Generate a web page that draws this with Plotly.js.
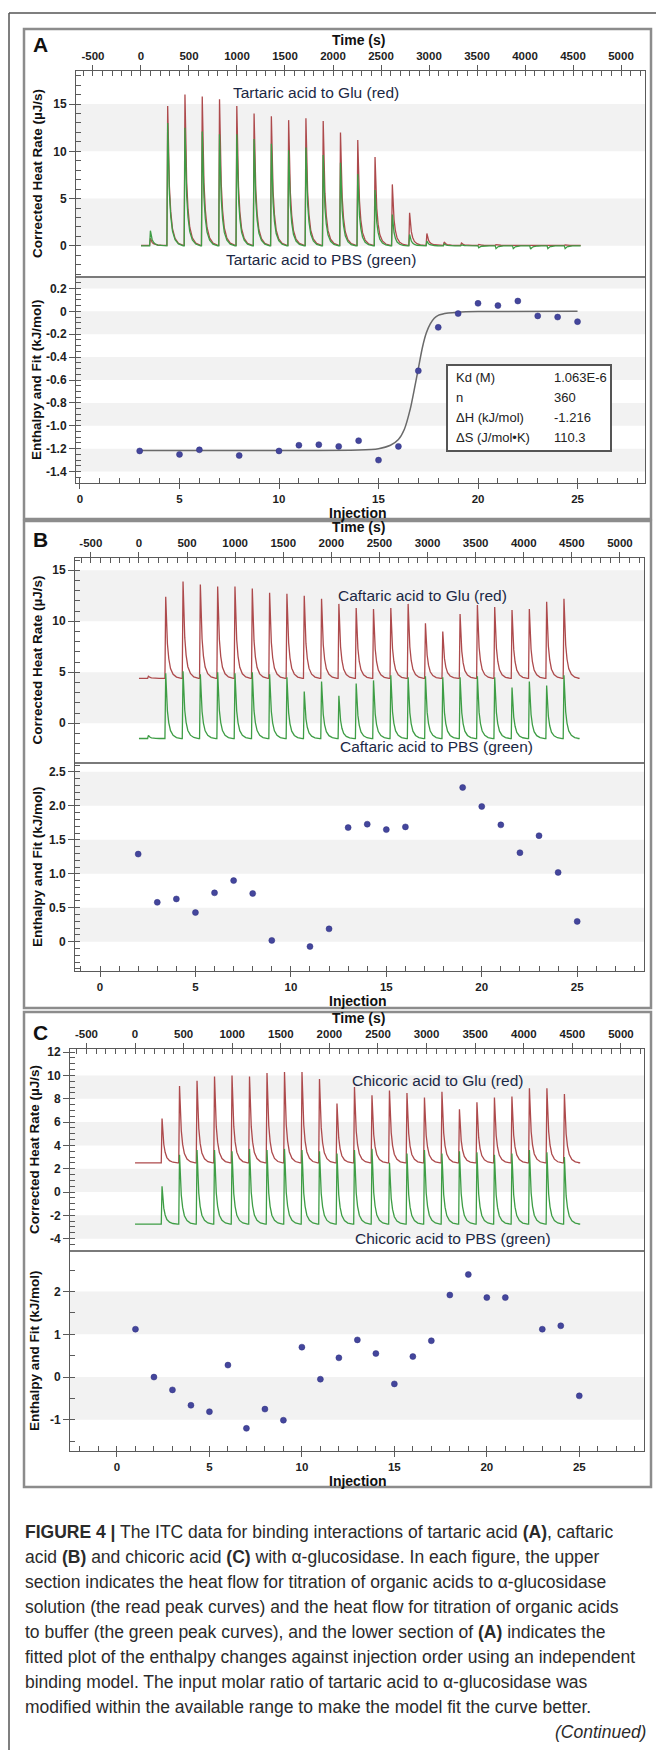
<!DOCTYPE html>
<html><head><meta charset="utf-8">
<script src="https://cdn.plot.ly/plotly-3.0.1.min.js"></script>
<style>html,body{margin:0;padding:0;background:#fff}#chart{width:656px;height:1750px}</style>
</head><body><div id="chart"></div>
<script>
// ---------------- data ----------------
const injectionTimes = [90,270,450,630,810,990,1170,1350,1530,1710,1890,2070,2250,2430,2610,2790,2970,3150,3330,3510,3690,3870,4050,4230,4410];
const traceStart = 0;
const traceEnd = 4560;

const timeTicks = [-500,0,500,1000,1500,2000,2500,3000,3500,4000,4500,5000];
const timeTickText = ['-500','0','500','1000','1500','2000','2500','3000','3500','4000','4500','5000'];
const injTicks = [0,5,10,15,20,25];
const injTickText = ['0','5','10','15','20','25'];

// Panel A (tartaric acid)
const aRedBase = 0.05;
const aRedPeaks = [0.8,14.8,16.0,15.8,15.5,14.8,14.0,13.7,13.3,13.5,13.2,12.0,11.2,9.4,6.5,3.5,1.3,0.4,0.3,0.15,0.12,0.1,0.1,0.1,0.1];
const aGreenBase = 0;
const aGreenPeaks = [1.6,13.0,12.5,12.1,11.8,11.8,11.3,10.8,10.1,10.4,9.6,8.8,7.6,5.9,3.3,1.2,0.5,0.2,0.1,-0.2,-0.3,-0.3,-0.35,-0.3,-0.3];
const aInj = [3,5,6,8,10,11,12,13,14,15,16,17,18,19,20,21,22,23,24,25];
const aDH = [-1.22,-1.25,-1.21,-1.26,-1.22,-1.17,-1.165,-1.18,-1.13,-1.30,-1.18,-0.52,-0.14,-0.02,0.07,0.05,0.09,-0.04,-0.05,-0.09];
const aFitInj = [3,14,15,15.6,16,16.3,16.6,16.8,17,17.2,17.4,17.6,17.8,18,18.5,19,20,25];
const aFitDH = [-1.216,-1.212,-1.20,-1.17,-1.12,-1.03,-0.85,-0.68,-0.50,-0.32,-0.19,-0.11,-0.06,-0.035,-0.015,-0.007,-0.002,0];
const aHeatTicks = [0,5,10,15];
const aHeatTickText = ['0','5','10','15'];
const aEnthTicks = [-1.4,-1.2,-1.0,-0.8,-0.6,-0.4,-0.2,0,0.2];
const aEnthTickText = ['-1.4','-1.2','-1.0','-0.8','-0.6','-0.4','-0.2','0','0.2'];
const fitLabels = ['Kd (M)','n','\u0394H (kJ/mol)','\u0394S (J/mol\u2022K)'];
const fitValues = ['1.063E-6','360','-1.216','110.3'];

// Panel B (caftaric acid)
const bRedBase = 4.4;
const bRedPeaks = [4.6,12.4,13.9,13.6,13.4,13.4,13.2,12.8,12.7,12.5,12.2,11.7,11.3,11.2,11.3,11.7,9.8,9.0,10.7,11.6,11.4,11.1,11.2,11.9,12.2];
const bGreenBase = -1.5;
const bGreenPeaks = [-1.2,4.9,5.1,4.8,5.0,4.9,5.0,4.8,4.5,3.1,4.1,2.7,3.9,4.2,4.7,4.5,4.6,4.5,4.5,4.6,4.5,3.5,4.1,3.7,4.7];
const bInj = [2,3,4,5,6,7,8,9,11,12,13,14,15,16,19,20,21,22,23,24,25];
const bDH = [1.29,0.58,0.63,0.43,0.72,0.90,0.71,0.02,-0.07,0.19,1.68,1.73,1.65,1.69,2.27,1.99,1.72,1.31,1.56,1.02,0.30];
const bHeatTicks = [0,5,10,15];
const bHeatTickText = ['0','5','10','15'];
const bEnthTicks = [0,0.5,1.0,1.5,2.0,2.5];
const bEnthTickText = ['0','0.5','1.0','1.5','2.0','2.5'];

// Panel C (chicoric acid)
const cRedBase = 2.5;
const cRedPeaks = [2.5,6.3,9.1,9.55,9.9,10.0,9.9,10.2,10.3,10.3,9.7,7.6,9.0,8.3,8.7,8.5,8.1,8.6,7.1,7.7,8.1,8.2,8.9,8.9,8.4];
const cGreenBase = -2.75;
const cGreenPeaks = [-2.75,0.5,3.2,3.6,3.6,3.5,3.7,3.6,3.7,3.6,3.5,3.3,3.6,3.7,2.5,3.3,3.6,3.3,3.5,3.4,3.2,3.3,3.6,3.4,3.0];
const cInj = [1,2,3,4,5,6,7,8,9,10,11,12,13,14,15,16,17,18,19,20,21,23,24,25];
const cDH = [1.12,0.0,-0.30,-0.66,-0.81,0.28,-1.20,-0.75,-1.01,0.70,-0.05,0.45,0.87,0.55,-0.16,0.48,0.85,1.92,2.40,1.86,1.86,1.12,1.20,-0.44];
const cHeatTicks = [-4,-2,0,2,4,6,8,10,12];
const cHeatTickText = ['-4','-2','0','2','4','6','8','10','12'];
const cEnthTicks = [-1,0,1,2];
const cEnthTickText = ['-1','0','1','2'];

const captionLines = [
  '<b>FIGURE 4 |</b> The ITC data for binding interactions of tartaric acid <b>(A)</b>, caftaric',
  'acid <b>(B)</b> and chicoric acid <b>(C)</b> with \u03b1-glucosidase. In each figure, the upper',
  'section indicates the heat flow for titration of organic acids to \u03b1-glucosidase',
  'solution (the read peak curves) and the heat flow for titration of organic acids',
  'to buffer (the green peak curves), and the lower section of <b>(A)</b> indicates the',
  'fitted plot of the enthalpy changes against injection order using an independent',
  'binding model. The input molar ratio of tartaric acid to \u03b1-glucosidase was',
  'modified within the available range to make the model fit the curve better.'
];

// ---------------- styling / layout ----------------
const W = 656, H = 1750;
const fx = p => p / W;
const fy = p => 1 - p / H;
const NARROW = 'Liberation Sans Narrow, Arial Narrow, Liberation Sans, Arial, sans-serif';
const SANS = 'Liberation Sans, Arial, Helvetica, sans-serif';
const RED = '#ad4a4c';
const GREEN = '#3e9d45';
const DOT = '#44469c';
const AX = '#5a5a5a';
const BAND = '#f2f2f2';
// shape of one injection peak (time offset in s, fraction of peak height)
const PEAK_DT = [0, 8, 16, 26, 40, 58, 85, 120, 170];
const PEAK_FRAC = [0, 1, 0.68, 0.42, 0.24, 0.12, 0.05, 0.015, 0];

function thermogram(base, peaks) {
  const x = [traceStart], y = [base];
  injectionTimes.forEach((t, i) => {
    const amp = peaks[i] - base;
    PEAK_DT.forEach((dt, j) => { x.push(t + dt); y.push(base + amp * PEAK_FRAC[j]); });
  });
  x.push(traceEnd); y.push(base);
  return {x, y};
}

const panels = [
  {letter:'A', box:[24,29,651,519], L:76, R:645, top:71, div:277, bot:483,
   tRange:[-677,5250], hRange:[-3.3,18.5], iRange:[-0.2,28.39], eRange:[-1.5,0.3],
   red:[aRedBase,aRedPeaks], green:[aGreenBase,aGreenPeaks], inj:aInj, dh:aDH,
   hT:aHeatTicks, hTT:aHeatTickText, hMinor:1, eT:aEnthTicks, eTT:aEnthTickText, eMinor:0.05,
   hBands:[[0,5],[10,15]], eBands:[[-1.4,-1.2],[-1.0,-0.8],[-0.6,-0.4],[-0.2,0],[0.2,0.3]],
   labTop:['Tartaric acid to Glu (red)',316,92], labBot:['Tartaric acid to PBS (green)',321,259],
   letterY:45, yTitleX:37},
  {letter:'B', box:[24,521,651,1008], L:75, R:644, top:558, div:763, bot:971,
   tRange:[-665,5250], hRange:[-3.9,16.2], iRange:[-1.31,28.5], eRange:[-0.43,2.63],
   red:[bRedBase,bRedPeaks], green:[bGreenBase,bGreenPeaks], inj:bInj, dh:bDH,
   hT:bHeatTicks, hTT:bHeatTickText, hMinor:1, eT:bEnthTicks, eTT:bEnthTickText, eMinor:0.1,
   hBands:[[0,5],[10,15]], eBands:[[0,0.5],[1.0,1.5],[2.0,2.5]],
   labTop:['Caftaric acid to Glu (red)',422,595], labBot:['Caftaric acid to PBS (green)',436,747],
   letterY:540, yTitleX:37},
  {letter:'C', box:[24,1012,651,1487], L:70, R:644, top:1049, div:1251, bot:1451,
   tRange:[-669,5237], hRange:[-5.06,12.27], iRange:[-2.54,28.5], eRange:[-1.73,2.95],
   red:[cRedBase,cRedPeaks], green:[cGreenBase,cGreenPeaks], inj:cInj, dh:cDH,
   hT:cHeatTicks, hTT:cHeatTickText, hMinor:0.5, eT:cEnthTicks, eTT:cEnthTickText, eMinor:0.5,
   hBands:[[-4,-2],[0,2],[4,6],[8,10]], eBands:[[-1,0],[1,2]],
   labTop:['Chicoric acid to Glu (red)',437,1080], labBot:['Chicoric acid to PBS (green)',453,1238],
   letterY:1032, yTitleX:34}
];

const tickFont = {family:NARROW, size:12, color:'#1e1e1e', weight:'bold'};
const smallTickFont = {family:NARROW, size:11.5, color:'#1e1e1e', weight:'bold'};
function axis(extra) {
  return Object.assign({showline:true, linecolor:AX, linewidth:1, mirror:true, showgrid:false,
    zeroline:false, ticks:'outside', ticklen:6, tickwidth:1, tickcolor:AX, tickfont:tickFont,
    tickmode:'array', fixedrange:true, automargin:false}, extra);
}
function minor(dtick) { return {tickmode:'linear', tick0:0, dtick:dtick, ticks:'inside', ticklen:5, tickwidth:1, tickcolor:AX}; }

const data = [];
const layout = {
  width:W, height:H, margin:{l:0,r:0,t:0,b:0}, paper_bgcolor:'#fff', plot_bgcolor:'#fff',
  showlegend:false, hovermode:false, shapes:[], annotations:[]
};
const ann = (text, x, y, font, extra) => layout.annotations.push(Object.assign({
  xref:'paper', yref:'paper', x:fx(x), y:fy(y), text:text, showarrow:false,
  xanchor:'center', yanchor:'middle', borderpad:0, font:font}, extra || {}));

// outer frame
layout.shapes.push({type:'line', xref:'paper', yref:'paper', x0:fx(9), x1:1, y0:fy(13), y1:fy(13), line:{color:'#555', width:1.5}});
layout.shapes.push({type:'line', xref:'paper', yref:'paper', x0:fx(9), x1:fx(9), y0:fy(13), y1:0, line:{color:'#555', width:1.5}});

panels.forEach((p, k) => {
  const n1 = 2*k + 1, n2 = 2*k + 2;
  const xa1 = n1 === 1 ? 'x' : 'x' + n1, ya1 = n1 === 1 ? 'y' : 'y' + n1;
  const xa2 = 'x' + n2, ya2 = 'y' + n2;
  const key = (c, n) => c + 'axis' + (n === 1 ? '' : n);
  const dom = [fx(p.L), fx(p.R)];

  layout[key('x', n1)] = axis({domain:dom, anchor:ya1, side:'top', range:p.tRange,
    tickvals:timeTicks, ticktext:timeTickText, tickfont:smallTickFont, ticklen:5, minor:minor(100)});
  layout[key('y', n1)] = axis({domain:[fy(p.div), fy(p.top)], anchor:xa1, range:p.hRange,
    tickvals:p.hT, ticktext:p.hTT, minor:minor(p.hMinor)});
  layout[key('x', n2)] = axis({domain:dom, anchor:ya2, side:'bottom', range:p.iRange,
    tickvals:injTicks, ticktext:injTickText, tickfont:smallTickFont, ticklen:5, minor:minor(1)});
  layout[key('y', n2)] = axis({domain:[fy(p.bot), fy(p.div)], anchor:xa2, range:p.eRange,
    tickvals:p.eT, ticktext:p.eTT, minor:minor(p.eMinor)});

  p.hBands.forEach(b => layout.shapes.push({type:'rect', xref:xa1 + ' domain', yref:ya1, x0:0, x1:1,
    y0:b[0], y1:b[1], fillcolor:BAND, line:{width:0}, layer:'below'}));
  p.eBands.forEach(b => layout.shapes.push({type:'rect', xref:xa2 + ' domain', yref:ya2, x0:0, x1:1,
    y0:b[0], y1:b[1], fillcolor:BAND, line:{width:0}, layer:'below'}));

  // panel box + divider
  layout.shapes.push({type:'rect', xref:'paper', yref:'paper', x0:fx(p.box[0]), x1:fx(p.box[2]),
    y0:fy(p.box[3]), y1:fy(p.box[1]), line:{color:'#8c8c8c', width:2.5}, fillcolor:'rgba(0,0,0,0)', layer:'below'});
  layout.shapes.push({type:'line', xref:'paper', yref:'paper', x0:fx(p.L), x1:fx(p.R),
    y0:fy(p.div), y1:fy(p.div), line:{color:'#7a7a7a', width:1.8}});

  const r = thermogram(p.red[0], p.red[1]);
  const g = thermogram(p.green[0], p.green[1]);
  data.push({type:'scatter', mode:'lines', x:r.x, y:r.y, xaxis:xa1, yaxis:ya1, line:{color:RED, width:1.3}});
  data.push({type:'scatter', mode:'lines', x:g.x, y:g.y, xaxis:xa1, yaxis:ya1, line:{color:GREEN, width:1.3}});
  if (k === 0) {
    data.push({type:'scatter', mode:'lines', x:aFitInj, y:aFitDH, xaxis:xa2, yaxis:ya2,
      line:{color:'#6a6a6a', width:1.5, shape:'spline', smoothing:0.6}});
  }
  data.push({type:'scatter', mode:'markers', x:p.inj, y:p.dh, xaxis:xa2, yaxis:ya2,
    marker:{color:DOT, size:6, line:{width:0.5, color:'#2e3080'}}});

  // texts
  ann(p.letter, 40, p.letterY, {family:SANS, size:21, color:'#111', weight:'bold'});
  ann('Time (s)', 358, p.top - 22, {family:SANS, size:14, color:'#111', weight:'bold'}, {yanchor:'bottom'});
  ann('Injection', 358, p.bot + 21, {family:SANS, size:14, color:'#111', weight:'bold'}, {yanchor:'top'});
  ann('Corrected Heat Rate (\u00b5J/s)', p.yTitleX, (p.top + p.div) / 2, {family:SANS, size:13.5, color:'#111', weight:'bold'}, {textangle:-90});
  ann('Enthalpy and Fit (kJ/mol)', p.yTitleX, (p.div + p.bot) / 2, {family:SANS, size:13.5, color:'#111', weight:'bold'}, {textangle:-90});
  ann(p.labTop[0], p.labTop[1], p.labTop[2], {family:SANS, size:15.5, color:'#1b2845'});
  ann(p.labBot[0], p.labBot[1], p.labBot[2], {family:SANS, size:15.5, color:'#1b2845'});
});

// fit results box (panel A)
layout.shapes.push({type:'rect', xref:'paper', yref:'paper', x0:fx(447), x1:fx(611), y0:fy(451), y1:fy(365),
  line:{color:'#555', width:2}, fillcolor:'#fff', layer:'above'});
fitLabels.forEach((t, i) => {
  ann(t, 455, 377 + 20*i, {family:SANS, size:13, color:'#222'}, {xanchor:'left'});
  ann(fitValues[i], 553, 377 + 20*i, {family:SANS, size:13, color:'#222'}, {xanchor:'left'});
});

// caption
captionLines.forEach((t, i) => ann(t, 24, 1532 + 25*i, {family:NARROW, size:17.5, color:'#2b2b2b'}, {xanchor:'left'}));
ann('<i>(Continued)</i>', 647, 1732, {family:NARROW, size:17.5, color:'#2b2b2b'}, {xanchor:'right'});

Plotly.newPlot('chart', data, layout, {staticPlot:true, displayModeBar:false});
</script></body></html>
